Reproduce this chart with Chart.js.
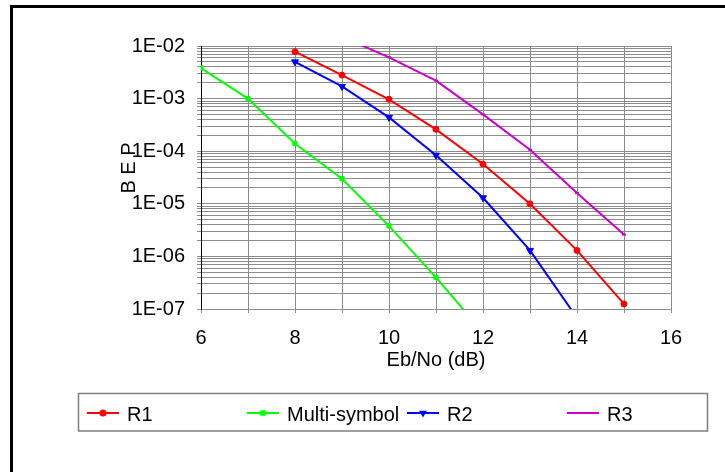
<!DOCTYPE html>
<html>
<head>
<meta charset="utf-8">
<script src="https://cdn.jsdelivr.net/npm/chart.js@4.4.1/dist/chart.umd.min.js"></script>
<style>
  html, body { margin: 0; padding: 0; background: #fff; }
  canvas { display: block; }
</style>
</head>
<body>
<canvas id="c" width="725" height="472"></canvas>
<script>
// Eb/No (dB) and bit error probability for each scheme
const r1X = [8, 9, 10, 11, 12, 13, 14, 15];
const r1 = [7.8e-3, 2.8e-3, 9.7e-4, 2.6e-4, 5.7e-5, 1.0e-5, 1.3e-6, 1.25e-7];

const multiX = [6, 7, 8, 9, 10, 11, 12];
const multi = [3.8e-3, 1.0e-3, 1.4e-4, 3.0e-5, 3.8e-6, 4.0e-7, 3.6e-8];

const r2X = [8, 9, 10, 11, 12, 13, 14];
const r2 = [5.0e-3, 1.7e-3, 4.4e-4, 8.4e-5, 1.3e-5, 1.3e-6, 6.8e-8];

const r3X = [9, 10, 11, 12, 13, 14, 15];
const r3 = [1.5e-2, 6.1e-3, 2.2e-3, 5.0e-4, 1.07e-4, 1.6e-5, 2.6e-6];

const seriesNames = ['R1', 'Multi-symbol', 'R2', 'R3'];
const xTickLabels = ['6', '8', '10', '12', '14', '16'];
const yTickLabels = ['1E-07', '1E-06', '1E-05', '1E-04', '1E-03', '1E-02'];

const FONT = { family: '"Liberation Sans", Arial, sans-serif', size: 20 };
const GRID = '#8c8c8c';

const pts = (xs, ys) => xs.map((x, i) => ({ x: x, y: ys[i] }));

// every decade gets lines at 1..9
const yTicks = [];
for (let e = -7; e < -2; e++) {
  for (let m = 1; m <= 9; m++) yTicks.push(m * Math.pow(10, e));
}
yTicks.push(1e-2);

const datasets = [
  { label: seriesNames[0], data: pts(r1X, r1), borderColor: '#ff0000', backgroundColor: '#ff0000',
    pointStyle: 'circle', pointRadius: 3, pointBorderWidth: 1 },
  { label: seriesNames[1], data: pts(multiX, multi), borderColor: '#00ff00', backgroundColor: '#00ff00',
    pointStyle: 'rect', pointRadius: 3, pointBorderWidth: 1 },
  { label: seriesNames[2], data: pts(r2X, r2), borderColor: '#0000ff', backgroundColor: '#0000ff',
    pointStyle: 'triangle', pointRotation: 180, pointRadius: 4, pointBorderWidth: 1 },
  { label: seriesNames[3], data: pts(r3X, r3), borderColor: '#cc00cc', backgroundColor: '#cc00cc',
    pointStyle: 'line', pointRadius: 2, pointBorderWidth: 2 }
];
datasets.forEach(d => { d.borderWidth = 2; d.tension = 0; d.fill = false; });

// white page, outer frame, y title and the boxed legend row
const decor = {
  id: 'decor',
  beforeDraw(chart) {
    const ctx = chart.ctx;
    ctx.save();
    ctx.fillStyle = '#fff';
    ctx.fillRect(0, 0, chart.width, chart.height);
    ctx.restore();
  },
  afterDraw(chart) {
    const ctx = chart.ctx;
    ctx.save();
    ctx.fillStyle = '#000';
    ctx.fillRect(10, 5, 3, chart.height);
    ctx.fillRect(10, 5, chart.width, 3);

    ctx.font = FONT.size + 'px ' + FONT.family;
    ctx.fillStyle = '#000';
    ctx.save();
    ctx.translate(129, 168);
    ctx.rotate(-Math.PI / 2);
    ctx.textAlign = 'center';
    ctx.textBaseline = 'middle';
    ctx.fillText('B E P', 0, 0);
    ctx.restore();

    ctx.strokeStyle = '#7f7f7f';
    ctx.lineWidth = 1.5;
    ctx.strokeRect(78.5, 393.5, 629, 37.5);

    chart.data.datasets.forEach((ds, i) => {
      const x0 = 87 + i * 160;
      const y = 413;
      ctx.strokeStyle = ds.borderColor;
      ctx.fillStyle = ds.backgroundColor;
      ctx.lineWidth = 2;
      ctx.beginPath();
      ctx.moveTo(x0, y);
      ctx.lineTo(x0 + 32, y);
      ctx.stroke();
      Chart.helpers.drawPoint(ctx, {
        pointStyle: ds.pointStyle, rotation: ds.pointRotation || 0,
        radius: Math.min(ds.pointRadius, 2.5), borderWidth: 1
      }, x0 + 16, y);
      ctx.fillStyle = '#000';
      ctx.textAlign = 'left';
      ctx.textBaseline = 'alphabetic';
      ctx.fillText(ds.label, x0 + 40, 421);
    });
    ctx.restore();
  }
};

new Chart(document.getElementById('c').getContext('2d'), {
  type: 'line',
  data: { datasets: datasets },
  options: {
    responsive: false,
    animation: false,
    layout: { padding: { left: 0, top: 46, right: 54, bottom: 100 } },
    plugins: { legend: { display: false }, tooltip: { enabled: false } },
    scales: {
      x: {
        type: 'linear', position: 'bottom', min: 6, max: 16,
        afterBuildTicks: s => { s.ticks = [6, 7, 8, 9, 10, 11, 12, 13, 14, 15, 16].map(v => ({ value: v })); },
        afterFit: s => { s.height = 63; },
        grid: { color: GRID, lineWidth: 1, tickLength: 4 },
        border: { color: GRID, width: 1 },
        ticks: {
          font: FONT, color: '#000', padding: 13, maxRotation: 0, autoSkip: false,
          callback: v => (xTickLabels.includes(String(v)) ? String(v) : '')
        },
        title: { display: true, text: 'Eb/No (dB)', font: FONT, color: '#000', padding: 0 }
      },
      y: {
        type: 'logarithmic', position: 'left', min: 1e-7, max: 1e-2,
        afterBuildTicks: s => { s.ticks = yTicks.map(v => ({ value: v })); },
        afterFit: s => { s.width = 201; },
        grid: { color: GRID, lineWidth: 1, tickLength: 4 },
        border: { color: '#000', width: 1 },
        ticks: {
          font: FONT, color: '#000', padding: 12, autoSkip: false,
          callback: v => {
            const e = Math.round(Math.log10(v));
            return Math.abs(v / Math.pow(10, e) - 1) < 1e-6 ? yTickLabels[e + 7] : '';
          }
        }
      }
    }
  },
  plugins: [decor]
});
</script>
</body>
</html>
